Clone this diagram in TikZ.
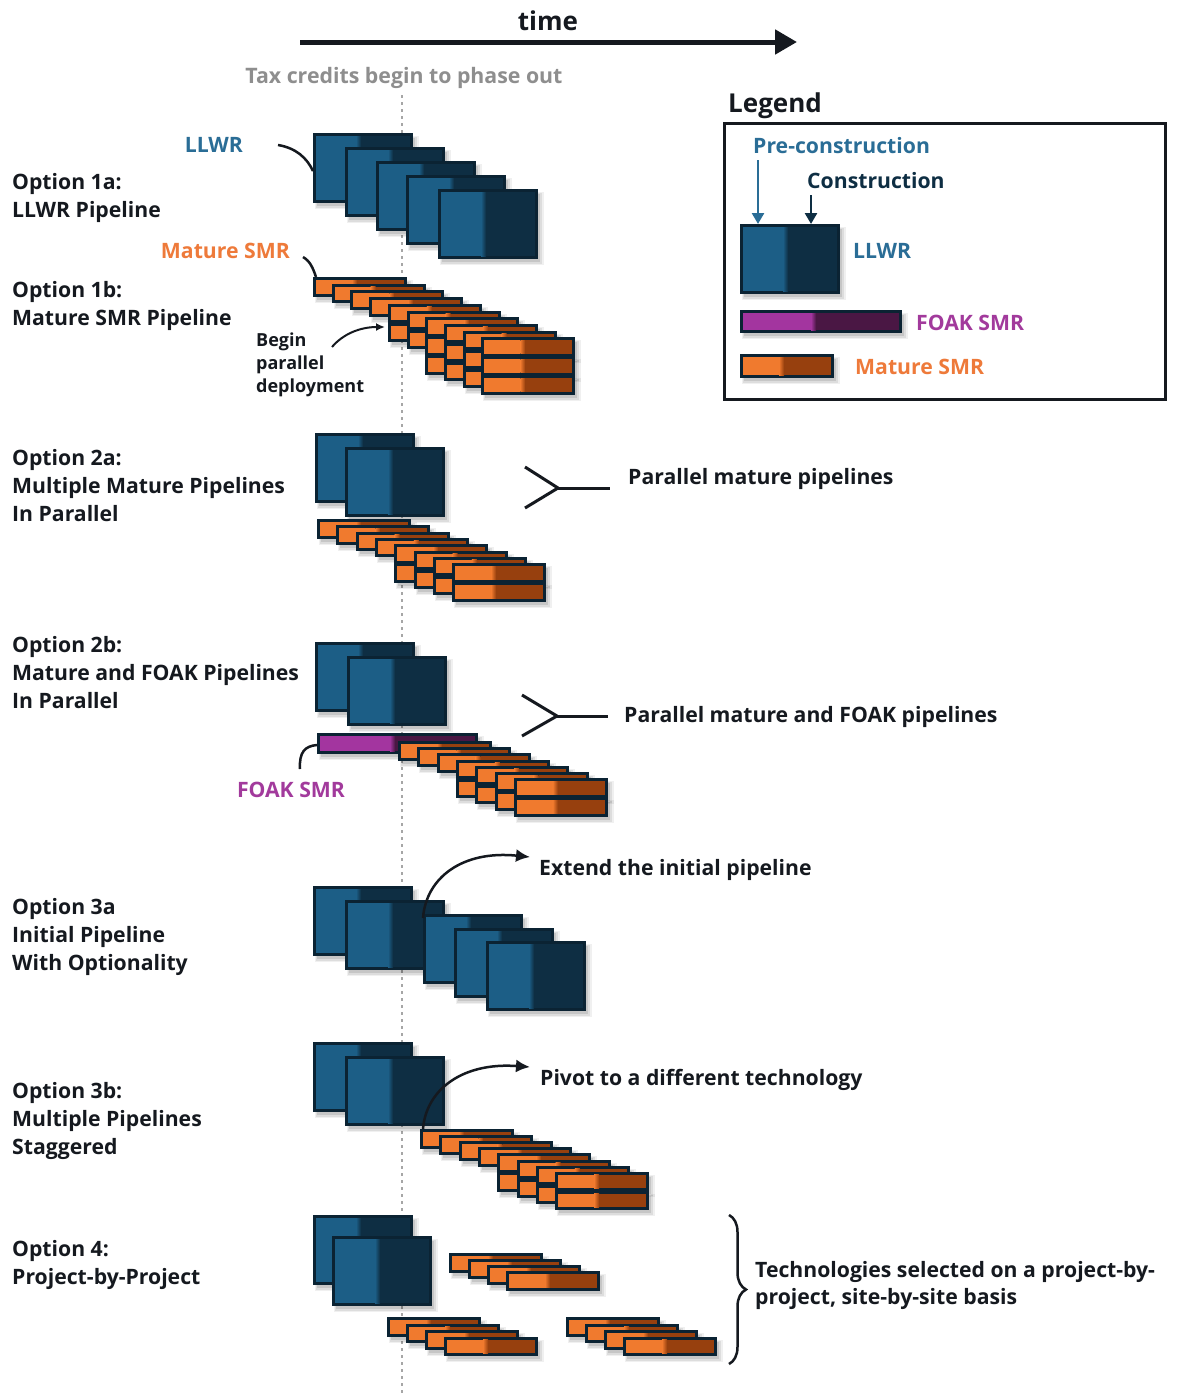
\documentclass[tikz,border=0pt]{standalone}
\usepackage{fontspec}
\setmainfont{Open Sans}
\usetikzlibrary{arrows.meta,decorations.pathreplacing}

\definecolor{lwlight}{HTML}{1C5E86}
\definecolor{lwdark}{HTML}{0E2E43}
\definecolor{edgec}{HTML}{0B2333}
\definecolor{smrlight}{HTML}{F07A2E}
\definecolor{smrdark}{HTML}{97400E}
\definecolor{foaklight}{HTML}{A3359F}
\definecolor{foakdark}{HTML}{4A1744}
\definecolor{llwrtext}{HTML}{2A6D96}
\definecolor{smrtext}{HTML}{EE7A3A}
\definecolor{foaktext}{HTML}{A23A9C}
\definecolor{greytext}{HTML}{8E8E8E}
\definecolor{ink}{HTML}{15191F}

% soft grey shadow below and right of a rectangle: x y w h
\newcommand\softshadow[4]{%
  \fill[black,opacity=.06] (#1+2,#2+3) rectangle ++(#3+4,#4+3);
  \fill[black,opacity=.08] (#1+3,#2+4) rectangle ++(#3+1,#4+1);
  \fill[black,opacity=.10] (#1+4,#2+5) rectangle ++(#3-2,#4-2);
}
% two-phase bar: x y w h lightcolour darkcolour lightwidth
\newcommand\pipebar[7]{%
  \softshadow{#1}{#2}{#3}{#4}
  \fill[edgec] (#1,#2) rectangle ++(#3,#4);
  \fill[#5] (#1+3,#2+3) rectangle ++(#7,#4-6);
  \shade[left color=#5,right color=#6] (#1+3+#7,#2+3) rectangle ++(5,#4-6);
  \fill[#6] (#1+8+#7,#2+3) rectangle (#1+#3-3,#2+#4-3);
}
\newcommand\llwrbox[2]{\pipebar{#1}{#2}{100}{70}{lwlight}{lwdark}{40}}
\newcommand\smrbar[2]{\pipebar{#1}{#2}{94}{19.5}{smrlight}{smrdark}{36}}
\newcommand\foakbar[2]{\pipebar{#1}{#2}{161}{21}{foaklight}{foakdark}{70}}
% staggered SMR pipeline: x0 y0 dx dy {bars per stage}
\newcommand\smrstack[5]{%
  \foreach \n [count=\k from 0] in {#5} {
    \foreach \r in {1,...,\n} {
      \pgfmathsetmacro\sx{#1+\k*#3}
      \pgfmathsetmacro\sy{#2+\k*#4+(\r-1)*19}
      \smrbar{\sx}{\sy}
    }
  }%
}

\begin{document}
\begin{tikzpicture}[x=1pt,y=-1pt,
  optlbl/.style={anchor=north west,inner sep=0,align=left,text=ink,
    font=\bfseries\fontsize{21.2}{28}\selectfont},
  note/.style={anchor=base west,inner sep=0,text=ink,
    font=\bfseries\fontsize{21.2}{24}\selectfont},
  conn/.style={ink,line width=2.5pt},
  merge/.style={ink,line width=3pt}]

\fill[white] (0,0) rectangle (1181,1395);
\useasboundingbox (0,0) rectangle (1181,1395);

% time axis
\node[font=\bfseries\fontsize{26}{30}\selectfont,text=ink,inner sep=0,anchor=base] (time) at (548,30) {time};
\coordinate (t0) at (300,42);
\coordinate (t1) at (797,42);
\draw[ink,line width=5pt,-{Triangle[length=22pt,width=24pt]}] (t0) -- (t1);

% tax-credit phase-out marker
\node[font=\bfseries\fontsize{21.3}{24}\selectfont,text=greytext,inner sep=0,anchor=base] (tax) at (404,83) {Tax credits begin to phase out};
\coordinate (ph0) at (402,95);
\coordinate (ph1) at (402,1395);
\draw[black!35,line width=2.5pt,dash pattern=on 3pt off 4pt] (ph0) -- (ph1);

% Option 1a
\foreach \x/\y in {313/133,345/147,376/161,406/175,438/189} {\llwrbox{\x}{\y}}
% Option 1b
\smrstack{313}{277}{18.7}{6.7}{1,1,1,1,2,2,3,3,3,3}
% Option 2a
\foreach \x/\y in {315/433,345/447} {\llwrbox{\x}{\y}}
\smrstack{317}{519}{19.3}{6.3}{1,1,1,1,2,2,2,2}
% Option 2b
\foreach \x/\y in {315/642,347/656} {\llwrbox{\x}{\y}}
\foakbar{317}{733}
\smrstack{398}{741}{19.3}{6.2}{1,1,1,2,2,2,2}
% Option 3a
\foreach \x/\y in {313/886,345/900,423/914,454/928,486/941} {\llwrbox{\x}{\y}}
% Option 3b
\foreach \x/\y in {313/1042,345/1056} {\llwrbox{\x}{\y}}
\smrstack{420}{1129}{19.3}{6.1}{1,1,1,1,2,2,2,2}
% Option 4
\foreach \x/\y in {313/1215,332/1236} {\llwrbox{\x}{\y}}
\smrstack{449}{1253}{19}{6}{1,1,1,1}
\smrstack{387}{1317}{19}{6.5}{1,1,1,1}
\smrstack{566}{1317}{19}{6.5}{1,1,1,1}

% option titles
\node[optlbl] (o1a) at (12,173) {Option 1a:\\LLWR Pipeline};
\node[optlbl] (o1b) at (12,281) {Option 1b:\\Mature SMR Pipeline};
\node[optlbl] (o2a) at (12,449) {Option 2a:\\Multiple Mature Pipelines\\In Parallel};
\node[optlbl] (o2b) at (12,636) {Option 2b:\\Mature and FOAK Pipelines\\In Parallel};
\node[optlbl] (o3a) at (12,898) {Option 3a\\Initial Pipeline\\With Optionality};
\node[optlbl] (o3b) at (12,1082) {Option 3b:\\Multiple Pipelines\\Staggered};
\node[optlbl] (o4) at (12,1240) {Option 4:\\Project-by-Project};

% technology call-outs
\node[note,anchor=base east,text=llwrtext] (kllwr) at (243,152) {LLWR};
\coordinate (a1a) at (278,145);
\coordinate (b1a) at (313,171);
\draw[conn] (a1a) .. controls (296,148) and (307,158) .. (b1a);

\node[note,anchor=base east,text=smrtext] (ksmr) at (290,258) {Mature SMR};
\coordinate (a1b) at (303,257);
\coordinate (b1b) at (316,277);
\draw[conn] (a1b) .. controls (310,261) and (313,268) .. (b1b);

\node[optlbl,font=\bfseries\fontsize{18}{23}\selectfont] (kpar) at (256,333) {Begin\\parallel\\deployment};
\coordinate (apar) at (332,347);
\coordinate (bpar) at (385,327);
\draw[ink,line width=2pt,-{Latex[length=9pt,width=8pt]}] (apar) .. controls (343,334) and (360,327) .. (bpar);

\node[note,anchor=base,text=foaktext] (kfoak) at (291,797) {FOAK SMR};
\coordinate (afoak) at (300,769);
\coordinate (bfoak) at (317,745);
\draw[conn] (afoak) .. controls (299,752) and (305,746) .. (bfoak);

% Option 2a / 2b merge marks
\node[note] (p2a) at (628,484) {Parallel mature pipelines};
\coordinate (m2a) at (558,488);
\coordinate (u2a) at (525,467);
\coordinate (d2a) at (525,508);
\coordinate (e2a) at (610,488);
\draw[merge] (u2a) -- (m2a) -- (d2a);
\draw[merge] (m2a) -- (e2a);

\node[note] (p2b) at (624,722) {Parallel mature and FOAK pipelines};
\coordinate (m2b) at (557,716);
\coordinate (u2b) at (522,695);
\coordinate (d2b) at (522,736);
\coordinate (e2b) at (608,716);
\draw[merge] (u2b) -- (m2b) -- (d2b);
\draw[merge] (m2b) -- (e2b);

% Option 3a / 3b branch arrows
\node[note] (x3a) at (539,875) {Extend the initial pipeline};
\coordinate (s3a) at (423,918);
\coordinate (f3a) at (530,857);
\draw[conn,-{Latex[length=14pt,width=13pt]}] (s3a) .. controls (426,878) and (462,850) .. (f3a);

\node[note] (x3b) at (540,1085) {Pivot to a different technology};
\coordinate (s3b) at (423,1129);
\coordinate (f3b) at (530,1067);
\draw[conn,-{Latex[length=14pt,width=13pt]}] (s3b) .. controls (426,1090) and (462,1062) .. (f3b);

% Option 4 brace
\coordinate (br0) at (729,1215);
\coordinate (br1) at (729,1364);
\draw[ink,line width=2.5pt,decorate,decoration={brace,amplitude=17pt}] (br0) -- (br1);
\node[optlbl,font=\bfseries\fontsize{21.2}{27}\selectfont] (x4) at (755,1261) {Technologies selected on a project-by-\\project, site-by-site basis};

% legend
\node[anchor=base west,inner sep=0,text=ink,font=\bfseries\fontsize{26}{30}\selectfont] (legt) at (728,112) {Legend};
\draw[ink,line width=3pt] (724,123) rectangle (1165,399);
\node[note,text=llwrtext] (lpre) at (753,153) {Pre-construction};
\node[note,text=lwdark] (lcon) at (807,188) {Construction};
\llwrbox{740}{224}
\coordinate (gpre) at (758,224);
\coordinate (gcon) at (811,224);
\draw[llwrtext,line width=2.5pt,-{Triangle[length=11pt,width=12pt]}] (gpre |- lpre.south) ++(0,7) -- (gpre);
\draw[lwdark,line width=2.5pt,-{Triangle[length=11pt,width=12pt]}] (gcon |- lcon.south) ++(0,7) -- (gcon);
\node[note,text=llwrtext] (lkllwr) at (853,258) {LLWR};
\pipebar{740}{310}{162}{23}{foaklight}{foakdark}{68}
\node[note,text=foaktext] (lkfoak) at (916,330) {FOAK SMR};
\pipebar{740}{354}{94}{24}{smrlight}{smrdark}{36}
\node[note,text=smrtext] (lksmr) at (855,374) {Mature SMR};
\end{tikzpicture}
\end{document}
